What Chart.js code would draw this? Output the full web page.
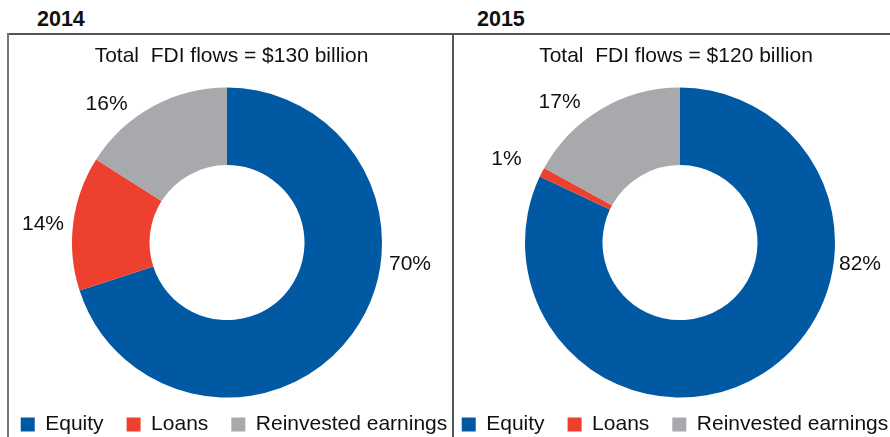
<!DOCTYPE html>
<html><head><meta charset="utf-8">
<script src="https://cdn.jsdelivr.net/npm/chart.js@4.4.1/dist/chart.umd.min.js"></script>
<style>
html,body{margin:0;padding:0;background:#fff;width:890px;height:437px;overflow:hidden;position:relative;font-family:"Liberation Sans",Arial,Helvetica,sans-serif;}
.yr{position:absolute;top:9px;font-weight:bold;font-size:21.5px;color:#111;line-height:1}
.ln{position:absolute;background:#555;}
.wrap{position:absolute;top:36px;width:480px;height:409px;}
</style></head><body>
<div class="yr" style="left:37px">2014</div>
<div class="yr" style="left:477px">2015</div>
<div class="ln" style="left:7px;top:33px;width:883px;height:2px"></div>
<div class="ln" style="left:7px;top:33px;width:2px;height:404px;background:#777"></div>
<div class="ln" style="left:452px;top:33px;width:2px;height:404px"></div>
<div class="wrap" style="left:-13px"><canvas id="c1"></canvas></div>
<div class="wrap" style="left:440px"><canvas id="c2"></canvas></div>
<script>
// ---- data ----
const categories = ['Equity', 'Loans', 'Reinvested earnings'];
const values2014 = [70, 14, 16];
const values2015 = [82, 1, 17];
const years = ['2014', '2015'];
const totals = [130, 120];

// ---- styles / label placement (polar offsets from doughnut centre) ----
const colors = ['#0059A2', '#EE402F', '#A7A9AC'];
const labelPlace2014 = [{a: 6.86, r: 184.3}, {a: 185.6, r: 184.9}, {a: 228.9, r: 183.2}];
const labelPlace2015 = [{a: 6.8, r: 181.3}, {a: 205.7, r: 192.5}, {a: 229.4, r: 185.1}];
const FONT = '"Liberation Sans", Arial, Helvetica, sans-serif';

const pctLabels = {
  id: 'pctLabels',
  afterDatasetsDraw(chart, args, opts) {
    const meta = chart.getDatasetMeta(0);
    const data = chart.data.datasets[0].data;
    const ctx = chart.ctx;
    ctx.save();
    ctx.font = '21px ' + FONT;
    ctx.fillStyle = '#111';
    ctx.textAlign = 'center';
    ctx.textBaseline = 'middle';
    meta.data.forEach((arc, i) => {
      const p = opts.place[i];
      const ang = p.a * Math.PI / 180;
      ctx.fillText(data[i] + '%', arc.x + p.r * Math.cos(ang), arc.y + p.r * Math.sin(ang));
    });
    ctx.restore();
  }
};

// nudges the title and legend horizontally relative to the doughnut
const shiftBoxes = {
  id: 'shiftBoxes',
  afterLayout(chart, args, opts) {
    if (chart.legend) { chart.legend.left += opts.legend; chart.legend.right += opts.legend; }
    if (chart.titleBlock) { chart.titleBlock.left += opts.title; chart.titleBlock.right += opts.title; }
  }
};

function makeChart(id, values, total, place, shift) {
  return new Chart(document.getElementById(id), {
    type: 'doughnut',
    data: {
      labels: categories,
      datasets: [{
        data: values,
        backgroundColor: colors,
        borderWidth: 0,
        clip: false
      }]
    },
    options: {
      responsive: true,
      maintainAspectRatio: false,
      animation: false,
      radius: 155,
      cutout: '50%',
      layout: {padding: 0},
      plugins: {
        title: {
          display: true,
          text: 'Total  FDI flows = $' + total + ' billion',
          color: '#111',
          font: {family: FONT, size: 21, weight: 'normal'},
          padding: {top: 8, bottom: 25}
        },
        legend: {
          display: true,
          position: 'bottom',
          labels: {
            color: '#111',
            font: {family: FONT, size: 21},
            boxWidth: 14,
            boxHeight: 14,
            padding: 23
          }
        },
        tooltip: {enabled: false},
        pctLabels: {place: place},
        shiftBoxes: shift
      }
    },
    plugins: [pctLabels, shiftBoxes]
  });
}

makeChart('c1', values2014, totals[0], labelPlace2014, {legend: 7, title: 4.5});
makeChart('c2', values2015, totals[1], labelPlace2015, {legend: -5, title: -4});
</script>
</body></html>
